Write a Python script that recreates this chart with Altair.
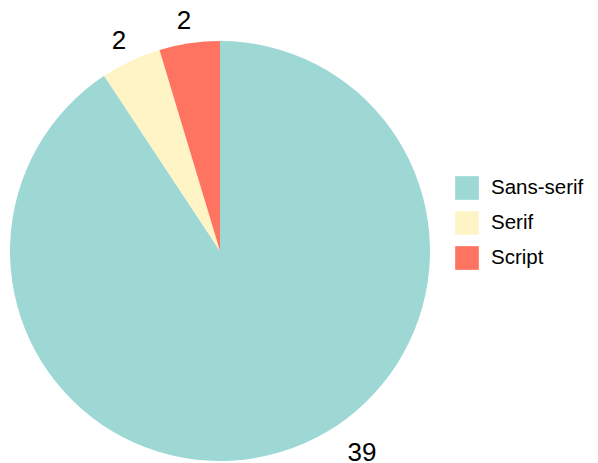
import altair as alt
import pandas as pd

categories = ["Sans-serif", "Serif", "Script"]
counts = [39, 2, 2]
colors = ["#9ED8D5", "#FFF4C6", "#FF7461"]

df = pd.DataFrame({"type": categories, "count": counts, "order": [0, 1, 2]})

pie = alt.Chart(df).mark_arc(radius=210, stroke=None).encode(
    theta=alt.Theta("count:Q", stack=True),
    order=alt.Order("order:Q"),
    color=alt.Color(
        "type:N",
        scale=alt.Scale(domain=categories, range=colors),
        sort=categories,
        legend=alt.Legend(
            title=None,
            orient="none",
            legendX=455,
            legendY=135,
            symbolType="square",
            symbolSize=560,
            symbolStrokeWidth=0,
            labelFont="Liberation Sans",
            labelFontSize=20.5,
            labelColor="#000000",
            labelOffset=12,
            rowPadding=11,
            padding=0,
        ),
    ),
)

lab_base = (
    alt.Chart(df)
    .transform_window(cum="sum(count)", sort=[alt.SortField("order")])
    .transform_calculate(mid="datum.cum - datum.count / 2")
)

small = lab_base.transform_filter(alt.datum.type != "Sans-serif").mark_text(
    radius=233, font="Liberation Sans", fontSize=26, color="#000000", dx=-2, dy=1
).encode(theta=alt.Theta("mid:Q"), text=alt.Text("count:Q"))

big = lab_base.transform_filter(alt.datum.type == "Sans-serif").mark_text(
    radius=236, font="Liberation Sans", fontSize=26, color="#000000", dx=74, dy=-24
).encode(theta=alt.Theta("mid:Q"), text=alt.Text("count:Q"))

chart = (
    alt.layer(pie, small, big)
    .properties(
        width=440,
        height=420,
        padding={"left": 0, "top": 41, "right": 158, "bottom": 2},
        autosize=alt.AutoSizeParams(type="none"),
    )
    .configure_view(stroke=None)
)

chart.save("out.html", embed_options={"renderer": "svg", "actions": False})
